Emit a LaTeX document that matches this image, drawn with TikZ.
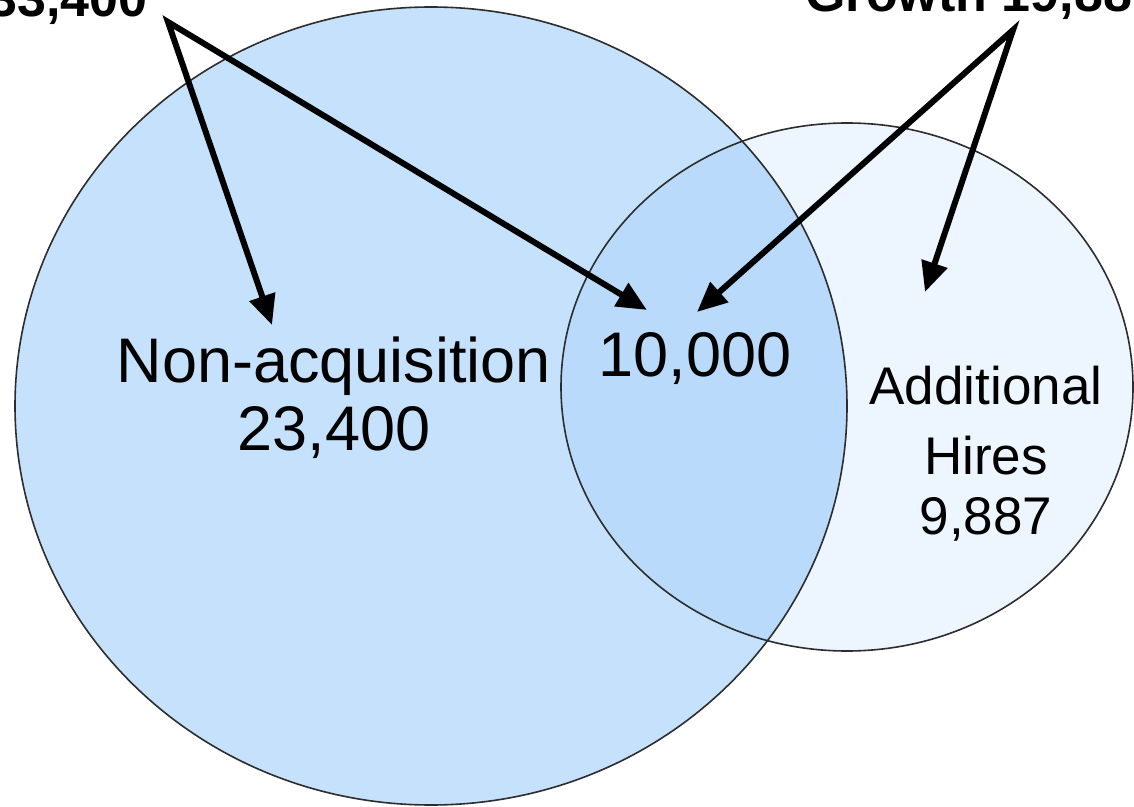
\documentclass[tikz,border=0pt]{standalone}
\usepackage{fontspec}
\setmainfont{Liberation Sans}
\usetikzlibrary{arrows.meta}
\definecolor{bigfill}{RGB}{197,225,252}
\definecolor{smallfill}{RGB}{237,245,255}
\definecolor{mixfill}{RGB}{185,218,250}
\definecolor{rim}{RGB}{45,45,45}
\begin{document}
\begin{tikzpicture}[x=0.5pt,y=-0.5pt,
  pointer/.style={line width=3pt,line join=miter,{Triangle[length=15pt,width=13pt]}-{Triangle[length=15pt,width=13pt]}},
  rimline/.style={draw=rim,line width=0.8pt},
  bigtext/.style={font=\fontsize{31.5}{36}\selectfont,anchor=base,inner sep=0pt},
  smalltext/.style={font=\fontsize{26.5}{30}\selectfont,anchor=base,inner sep=0pt},
  headtext/.style={font=\bfseries\fontsize{26}{30}\selectfont,inner sep=0pt}]
  \clip (0,0) rectangle (1134,807);
  % the two sets
  \fill[bigfill] (431,406) ellipse [x radius=416,y radius=399];
  \fill[smallfill] (847,387) ellipse [x radius=286,y radius=264];
  \begin{scope}
    \clip (431,406) ellipse [x radius=416,y radius=399];
    \fill[mixfill] (847,387) ellipse [x radius=286,y radius=264];
  \end{scope}
  \draw[rimline] (431,406) ellipse [x radius=416,y radius=399];
  \draw[rimline] (847,387) ellipse [x radius=286,y radius=264];
  % labels
  \node[bigtext] (nonacq) at (334,382) {Non-acquisition};
  \node[bigtext] (nonacqval) at (334,450) {23,400};
  \node[bigtext] (overlap) at (695,377) {10,000};
  \node[smalltext] (addl) at (986,404) {Additional};
  \node[smalltext] (hires) at (986,474) {Hires};
  \node[smalltext] (addlval) at (986,534) {9,887};
  \node[headtext,anchor=base east] (total) at (148,17) {33,400};
  \node[headtext,anchor=base west] (growth) at (805,12) {Growth 19,887};
  % arrows
  \coordinate (totaltip) at (168,22);
  \coordinate (growthtip) at (1013,30);
  \coordinate (nonacqin) at (272,325);
  \coordinate (overlapinl) at (647,310);
  \coordinate (overlapinr) at (697,312);
  \coordinate (addlin) at (925,292);
  \draw[pointer] (nonacqin) -- (totaltip) -- (overlapinl);
  \draw[pointer] (overlapinr) -- (growthtip) -- (addlin);
\end{tikzpicture}
\end{document}
